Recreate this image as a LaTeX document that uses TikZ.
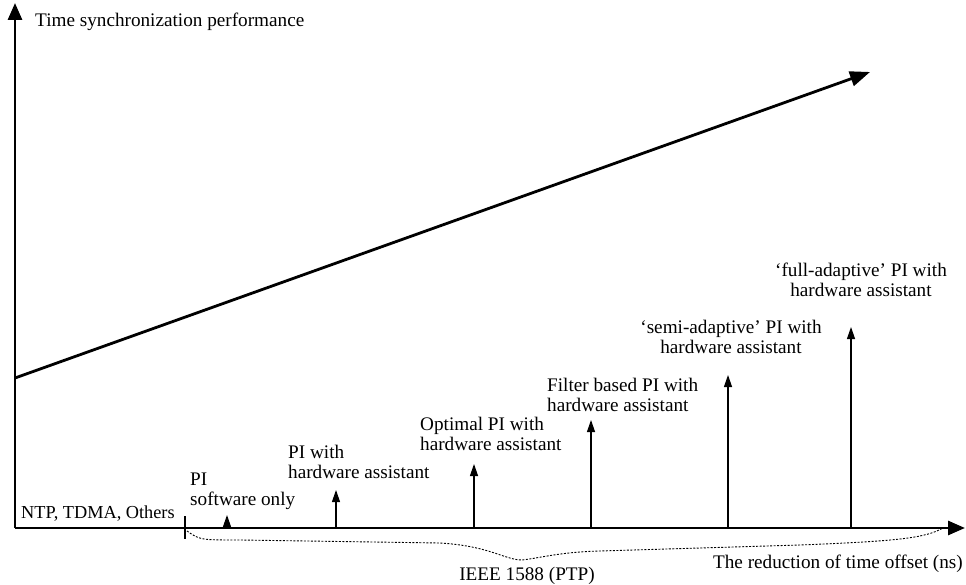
\documentclass[tikz,border=0pt]{standalone}
\usepackage{fontspec}
\setmainfont{Liberation Serif}
\usetikzlibrary{arrows.meta}
\begin{document}
\begin{tikzpicture}[x=1pt,y=-1pt,
  lab/.style={inner sep=0pt,font=\fontsize{19.2}{19.5}\selectfont},
  axisline/.style={line width=2.8pt,-{Triangle[length=17pt,width=14pt]}},
  upline/.style={line width=1.2pt,-{Triangle[length=12pt,width=8pt]}},
  bracepath/.style={line width=0.9pt,dash pattern=on 2pt off 1.5pt}]
\useasboundingbox (0,0) rectangle (966,585);
% axes
\coordinate (O) at (15,528);
\coordinate (Ytip) at (15,3);
\coordinate (Xtip) at (965,528);
\draw[axisline] (O) -- (Ytip);
\draw[axisline] (O) -- (Xtip);
% diagonal
\coordinate (D0) at (15,378);
\coordinate (D1) at (870,72);
\draw[line width=2.8pt,-{Triangle[length=20pt,width=15pt]}] (D0) -- (D1);
% tick
\coordinate (Ta) at (185,516);
\coordinate (Tb) at (185,539);
\draw[line width=1.4pt] (Ta) -- (Tb);
% vertical arrows
\foreach \n/\x/\t in {1/227/515, 2/336/490, 3/474/464, 4/591/420, 5/728/375, 6/851/327}{
  \coordinate (b\n) at (\x,528);
  \coordinate (t\n) at (\x,\t);
  \draw[upline] (b\n) -- (t\n);
}
% labels
\node[lab,anchor=north west] (ytitle) at (35,13) {Time synchronization performance};
\node[lab,anchor=base west,font=\fontsize{18.3}{19.5}\selectfont] (ntp) at (21,518) {NTP, TDMA, Others};
\node[lab,anchor=north west,align=left] (l1) at (190,473) {PI\\software only};
\node[lab,anchor=north west,align=left] (l2) at (288,445) {PI with\\hardware assistant};
\node[lab,anchor=north west,align=left] (l3) at (420,417) {Optimal PI with\\hardware assistant};
\node[lab,anchor=north west,align=left] (l4) at (547,378) {Filter based PI with\\hardware assistant};
\node[lab,anchor=north,align=center] (l5) at (731,320) {‘semi-adaptive’ PI with\\hardware assistant};
\node[lab,anchor=north,align=center] (l6) at (861,263) {‘full-adaptive’ PI with\\hardware assistant};
\node[lab,anchor=north] (ieee) at (527,567) {IEEE 1588 (PTP)};
\node[lab,anchor=north east] (xtitle) at (963,555) {The reduction of time offset (ns)};
% brace
\coordinate (Be) at (943,528);
\draw[bracepath] (Tb |- O) ++(2,3) .. controls (200,540) .. (240,540)
  -- (440,543) .. controls (490,546) and (505,560) .. (522,560)
  .. controls (540,558) and (560,552) .. (600,551)
  -- (800,545) .. controls (900,541) and (925,538) .. (Be);
\end{tikzpicture}
\end{document}
